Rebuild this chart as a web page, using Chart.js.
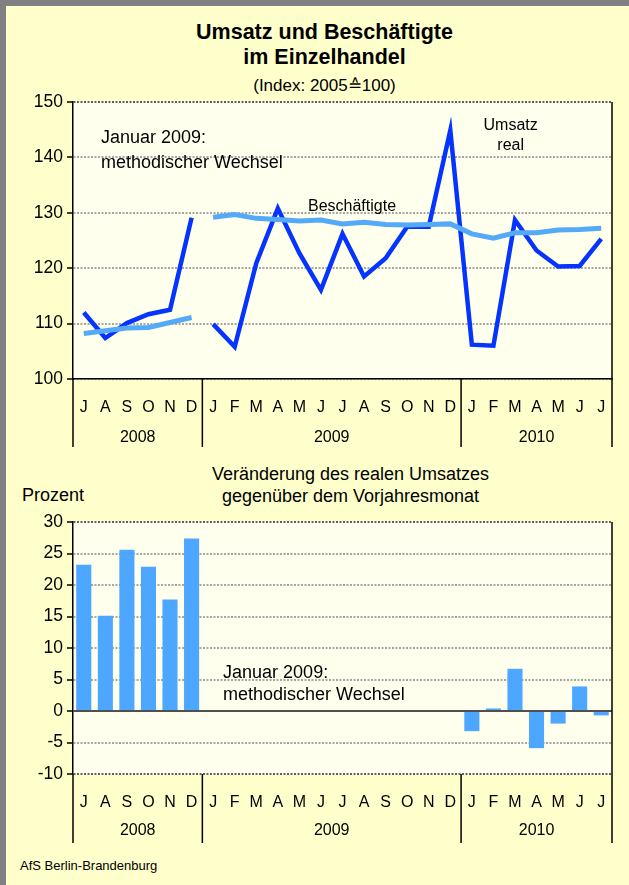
<!DOCTYPE html>
<html>
<head>
<meta charset="utf-8">
<script src="https://cdn.jsdelivr.net/npm/chart.js@4.4.1/dist/chart.umd.min.js"></script>
<style>
  body { margin: 0; }
  #page {
    position: relative; width: 629px; height: 885px; overflow: hidden;
    background: #ffffcc; box-sizing: border-box;
    border-top: 6px solid #808080; border-left: 6px solid #808080;
    font-family: "Liberation Sans", Arial, sans-serif; color: #000;
  }
  .t { position: absolute; white-space: nowrap; line-height: 24px; }
  .c { left: -6px; width: 649px; text-align: center; }
  canvas { position: absolute; left: -6px; }
</style>
</head>
<body>
<div id="page">
  <div class="t c" style="top:14px;font-weight:bold;font-size:21.5px;">Umsatz und Beschäftigte</div>
  <div class="t c" style="top:39px;font-weight:bold;font-size:21.5px;">im Einzelhandel</div>
  <div class="t c" style="top:68px;font-size:17px;">(Index: 2005≙100)</div>

  <div class="t c" style="top:456px;left:20px;font-size:18px;">Veränderung des realen Umsatzes</div>
  <div class="t c" style="top:478px;left:20px;font-size:18px;">gegenüber dem Vorjahresmonat</div>
  <div class="t" style="top:477px;left:16px;font-size:18px;">Prozent</div>

  <div class="t" style="top:848px;left:14px;font-size:13px;">AfS Berlin-Brandenburg</div>

  <canvas id="top" width="629" height="450" style="top:-6px"></canvas>
  <canvas id="bottom" width="629" height="435" style="top:444px"></canvas>
</div>
<script>
// Juli 2008 bis Juli 2010
const months = ['J','A','S','O','N','D','J','F','M','A','M','J','J','A','S','O','N','D','J','F','M','A','M','J','J'];
const years = ['2008', '2009', '2010'];
const yearSpans = [6, 12, 7];

const umsatzReal = [112.0, 107.4, 110.1, 111.7, 112.5, 129.1,
  109.9, 105.8, 120.9, 130.8, 122.7, 116.1, 126.2, 118.5, 121.8, 127.5, 127.5, 144.9,
  106.2, 106.0, 128.7, 123.2, 120.3, 120.4, 125.3];
const beschaeftigte = [108.2, 108.7, 109.2, 109.3, 110.2, 111.1,
  129.2, 129.7, 129.0, 128.8, 128.5, 128.7, 128.0, 128.3, 127.9, 127.8, 127.9, 128.0,
  126.2, 125.4, 126.4, 126.4, 126.9, 127.0, 127.2];
const veraenderung = [23.2, 15.1, 25.6, 22.9, 17.7, 27.4,
  null, null, null, null, null, null, null, null, null, null, null, null,
  -3.2, 0.4, 6.7, -5.9, -2.0, 3.9, -0.7];

const indexTicks = [100, 110, 120, 130, 140, 150];
const prozentTicks = [-10, -5, 0, 5, 10, 15, 20, 25, 30];
const breakAfter = 5; // methodischer Wechsel ab Januar 2009

const FONT = '"Liberation Sans", Arial, sans-serif';
Chart.defaults.font.family = FONT;
Chart.defaults.color = '#000';

const frame = {
  id: 'frame',
  beforeDraw(chart) {
    const { ctx, chartArea: a } = chart;
    ctx.save();
    ctx.fillStyle = '#ffffee';
    ctx.fillRect(a.left, a.top, a.width, a.height);
    ctx.restore();
  },
  afterDraw(chart, args, opts) {
    const { ctx, chartArea: a, scales: { x, y } } = chart;
    ctx.save();
    ctx.strokeStyle = '#000';
    ctx.lineWidth = 1.5;
    ctx.beginPath();
    ctx.moveTo(a.right, a.top);
    ctx.lineTo(a.right, a.bottom);
    const bounds = [x.getPixelForValue(-0.5)];
    let n = 0;
    yearSpans.forEach(s => { n += s; bounds.push(x.getPixelForValue(n - 0.5)); });
    bounds.forEach(px => { ctx.moveTo(px, a.bottom); ctx.lineTo(px, opts.sepBottom); });
    ctx.stroke();

    ctx.fillStyle = '#000';
    ctx.textBaseline = 'middle';
    ctx.textAlign = 'center';
    ctx.font = '16px ' + FONT;
    years.forEach((yr, i) => ctx.fillText(yr, (bounds[i] + bounds[i + 1]) / 2, opts.yearY));

    opts.notes.forEach(nt => {
      ctx.textAlign = nt.align;
      ctx.font = nt.size + 'px ' + FONT;
      ctx.fillText(nt.text, x.getPixelForValue(nt.at[0]), y.getPixelForValue(nt.at[1]));
    });
    ctx.restore();
  }
};

new Chart(document.getElementById('top'), {
  type: 'line',
  data: {
    labels: months,
    datasets: [
      {
        label: 'Beschäftigte', data: beschaeftigte,
        borderColor: '#55aaf7', borderWidth: 5, pointRadius: 0, tension: 0,
        segment: { borderColor: c => c.p0DataIndex === breakAfter ? 'rgba(0,0,0,0)' : undefined }
      },
      {
        label: 'Umsatz real', data: umsatzReal,
        borderColor: '#0533ff', borderWidth: 4.5, pointRadius: 0, tension: 0,
        segment: { borderColor: c => c.p0DataIndex === breakAfter ? 'rgba(0,0,0,0)' : undefined }
      }
    ]
  },
  options: {
    responsive: false, animation: false,
    layout: { padding: { top: 102, right: 17, left: 0, bottom: 0 } },
    plugins: {
      legend: { display: false }, tooltip: { enabled: false },
      frame: {
        sepBottom: 447, yearY: 438,
        notes: [
          { text: 'Januar 2009:', at: [0.8, 143.5], align: 'left', size: 18 },
          { text: 'methodischer Wechsel', at: [0.8, 139.0], align: 'left', size: 18 },
          { text: 'Beschäftigte', at: [10.4, 131.2], align: 'left', size: 16 },
          { text: 'Umsatz', at: [19.8, 145.8], align: 'center', size: 16 },
          { text: 'real', at: [19.8, 142.2], align: 'center', size: 16 }
        ]
      }
    },
    scales: {
      x: {
        offset: true,
        grid: { display: false },
        border: { display: true, color: '#000', width: 1.5 },
        ticks: { font: { size: 16 }, padding: 11, maxRotation: 0, autoSkip: false },
        afterFit(s) { s.height = 71; }
      },
      y: {
        min: 100, max: 150,
        afterBuildTicks(s) { s.ticks = indexTicks.map(v => ({ value: v })); },
        grid: {
          color: c => c.tick && c.tick.value === 150 ? '#606060' : '#a6a6a6',
          lineWidth: 2, tickColor: '#000', tickLength: 6, tickWidth: 1.5, tickBorderDash: []
        },
        border: { color: '#000', width: 1.5, dash: [2, 1.5] },
        ticks: { font: { size: 17.5 }, padding: 4 },
        afterFit(s) { s.width = 73; }
      }
    }
  },
  plugins: [frame]
});

new Chart(document.getElementById('bottom'), {
  type: 'bar',
  data: {
    labels: months,
    datasets: [{
      label: 'Veränderung', data: veraenderung,
      backgroundColor: '#4da6ff', barPercentage: 0.7, categoryPercentage: 1
    }]
  },
  options: {
    responsive: false, animation: false,
    layout: { padding: { top: 72, right: 17, left: 0, bottom: 0 } },
    plugins: {
      legend: { display: false }, tooltip: { enabled: false },
      frame: {
        sepBottom: 393, yearY: 381,
        notes: [
          { text: 'Januar 2009:', at: [6.46, 6.1], align: 'left', size: 18 },
          { text: 'methodischer Wechsel', at: [6.46, 2.6], align: 'left', size: 18 }
        ]
      }
    },
    scales: {
      x: {
        offset: true,
        grid: { display: false },
        border: { display: false },
        ticks: { font: { size: 16 }, padding: 11, maxRotation: 0, autoSkip: false },
        afterFit(s) { s.height = 111; }
      },
      y: {
        min: -10, max: 30,
        afterBuildTicks(s) { s.ticks = prozentTicks.map(v => ({ value: v })); },
        grid: {
          color: c => {
            const v = c.tick && c.tick.value;
            if (v === 0) return '#505050';
            return v === 30 || v === -10 ? '#606060' : '#a6a6a6';
          },
          lineWidth: 2, tickColor: '#000', tickLength: 6, tickWidth: 1.5, tickBorderDash: []
        },
        border: { color: '#000', width: 1.5, dash: c => (c.tick && c.tick.value === 0 ? [] : [2, 1.5]) },
        ticks: { font: { size: 17.5 }, padding: 4 },
        afterFit(s) { s.width = 73; }
      }
    }
  },
  plugins: [frame]
});
</script>
</body>
</html>
